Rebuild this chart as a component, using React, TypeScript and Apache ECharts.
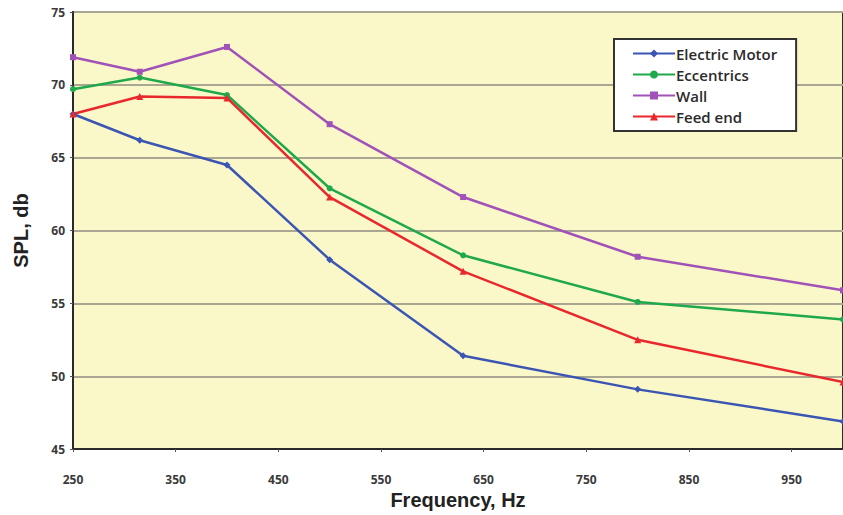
import React, { useEffect, useRef } from "react";
import * as echarts from "echarts";

const frequencies = [250, 315, 400, 500, 630, 800, 1000];
const electricMotor = [68.0, 66.2, 64.5, 58.0, 51.4, 49.1, 46.9];
const eccentrics = [69.7, 70.5, 69.3, 62.9, 58.3, 55.1, 53.9];
const wall = [71.9, 70.9, 72.6, 67.3, 62.3, 58.2, 55.9];
const feedEnd = [68.0, 69.2, 69.1, 62.3, 57.2, 52.5, 49.6];
const xTicks = [250, 350, 450, 550, 650, 750, 850, 950];
const yTicks = [45, 50, 55, 60, 65, 70, 75];

const seriesDefs = [
  { name: "Electric Motor", data: electricMotor, color: "#3b55b3", symbol: "diamond", size: 7 },
  { name: "Eccentrics", data: eccentrics, color: "#1fa84c", symbol: "circle", size: 6 },
  { name: "Wall", data: wall, color: "#a152b8", symbol: "rect", size: 6 },
  { name: "Feed end", data: feedEnd, color: "#e8282c", symbol: "triangle", size: 7 },
];

export default function App() {
  const ref = useRef<HTMLDivElement>(null);
  useEffect(() => {
    if (!ref.current) return;
    const chart = echarts.init(ref.current, undefined, { renderer: "svg" });
    const labelStyle = {
      color: "#3a3a3a",
      fontSize: 12,
      fontWeight: "bold" as const,
      fontFamily: "Open Sans, sans-serif",
    };
    chart.setOption({
      animation: false,
      backgroundColor: "#ffffff",
      grid: {
        left: 73,
        top: 12,
        width: 776,
        height: 441,
        show: true,
        backgroundColor: "#faf7c9",
        borderColor: "#2a2a2a",
        borderWidth: 2,
      },
      legend: {
        orient: "vertical",
        left: 614,
        top: 39,
        backgroundColor: "#ffffff",
        borderColor: "#333333",
        borderWidth: 2,
        padding: [7, 19, 7, 18],
        itemGap: 6,
        itemWidth: 42,
        itemHeight: 10,
        textStyle: {
          color: "#2a2a2a",
          fontSize: 15,
          fontWeight: 600,
          fontFamily: "Open Sans, sans-serif",
          padding: [0, 0, 0, -4],
        },
        data: seriesDefs.map((s) => s.name),
      },
      xAxis: {
        type: "value",
        min: 250,
        max: 1000,
        name: "Frequency, Hz",
        nameLocation: "middle",
        nameGap: 33,
        nameTextStyle: {
          color: "#222222",
          fontSize: 20,
          fontWeight: "bold",
          fontFamily: "Liberation Sans, Arial, sans-serif",
        },
        axisLine: { show: true, lineStyle: { color: "#2a2a2a", width: 2 } },
        axisTick: { show: true, length: 3, customValues: xTicks, lineStyle: { color: "#555" } },
        axisLabel: { ...labelStyle, margin: 24, customValues: xTicks },
        splitLine: { show: false },
      },
      yAxis: {
        type: "value",
        min: 45,
        max: 75,
        interval: 5,
        name: "SPL, db",
        nameLocation: "middle",
        nameGap: 42,
        nameTextStyle: {
          color: "#222222",
          fontSize: 20,
          fontWeight: "bold",
          fontFamily: "Liberation Sans, Arial, sans-serif",
        },
        axisLine: { show: true, lineStyle: { color: "#2a2a2a", width: 2 } },
        axisTick: { show: true, length: 3, lineStyle: { color: "#555" } },
        axisLabel: { ...labelStyle, margin: 8, customValues: yTicks },
        splitLine: { show: true, lineStyle: { color: "#a9a692", width: 2 } },
      },
      series: seriesDefs.map((s) => ({
        name: s.name,
        type: "line",
        data: frequencies.map((f, i) => [f, s.data[i]]),
        symbol: s.symbol,
        symbolSize: s.size,
        showAllSymbol: true,
        itemStyle: { color: s.color },
        lineStyle: { color: s.color, width: 2.5 },
      })),
    });
    return () => chart.dispose();
  }, []);
  return (
    <div
      ref={ref}
      style={{ position: "absolute", left: 0, top: 0, width: 843, height: 515 }}
    />
  );
}
